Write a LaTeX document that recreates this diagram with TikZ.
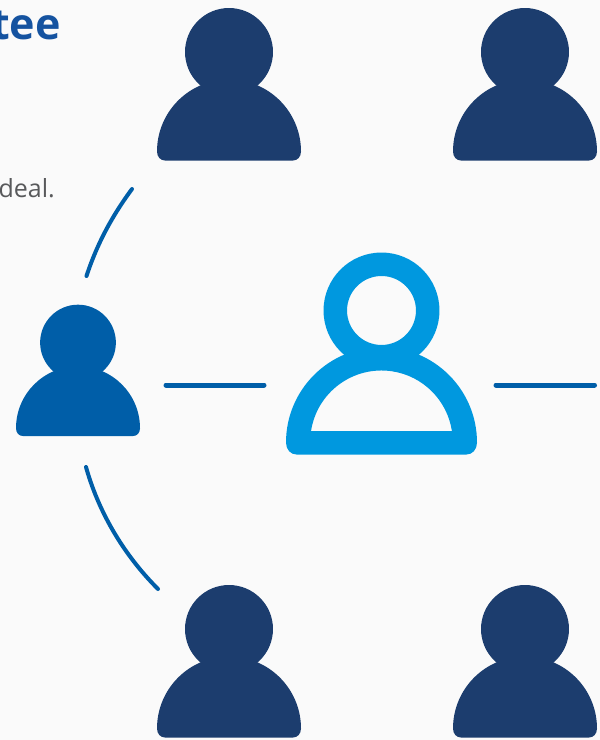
\documentclass[tikz,border=0pt]{standalone}
\usepackage{fontspec}
\setmainfont{Open Sans}
\definecolor{bgc}{HTML}{FAFAFA}
\definecolor{darkp}{HTML}{1C3D6E}
\definecolor{midp}{HTML}{005EA8}
\definecolor{lightp}{HTML}{0098DF}
\definecolor{titlec}{HTML}{1553A0}
\definecolor{textc}{HTML}{58595B}
\tikzset{
  x=1pt,y=1pt,
  person/.pic={
    \fill[#1] (0,1.507) circle[radius=.611];
    \fill[#1] (-1,.125) arc[start angle=180,end angle=0,radius=1]
      .. controls (1,.05) and (.95,0) .. (.89,0) -- (-.89,0)
      .. controls (-.95,0) and (-1,.05) .. (-1,.125) -- cycle;
  },
  hollowperson/.pic={
    \fill[#1,even odd rule] (0,1.508) circle[radius=.607] (0,1.508) circle[radius=.361];
    \fill[#1,even odd rule] (-1,.125) arc[start angle=180,end angle=0,radius=1]
      .. controls (1,.05) and (.95,0) .. (.89,0) -- (-.89,0)
      .. controls (-.95,0) and (-1,.05) .. (-1,.125) -- cycle
      (-.738,.244) arc[start angle=171.5,end angle=8.5,radius=.746] -- cycle;
  },
  link/.style={draw=midp,line width=5pt,line cap=round},
  curvedlink/.style={draw=midp,line width=4pt,line cap=round},
}
\begin{document}
\begin{tikzpicture}
\fill[bgc] (0,0) rectangle (600,-740);
\useasboundingbox (0,0) rectangle (600,-740);
\begin{scope}
\clip (0,0) rectangle (600,-740);
\node[anchor=base east,inner sep=0pt,font=\fontsize{43}{50}\selectfont\bfseries,text=titlec] (title) at (61,-39) {tee};
\node[anchor=base east,inner sep=0pt,font=\fontsize{25}{30}\selectfont,text=textc] (body) at (55,-197) {deal.};
\end{scope}
\pic[scale=72] at (229,-160.5) {person=darkp};
\pic[scale=72] at (525,-160.5) {person=darkp};
\pic[scale=72] at (229,-737.5) {person=darkp};
\pic[scale=72] at (525,-737.5) {person=darkp};
\pic[scale=62] at (78,-436) {person=midp};
\pic[scale=95.5] at (381.5,-454.5) {hollowperson=lightp};
\coordinate (a1) at (132,-189);
\coordinate (a2) at (86.5,-276);
\coordinate (b1) at (86,-467);
\coordinate (b2) at (158,-589);
\coordinate (c1) at (166,-385);
\coordinate (c2) at (264,-385);
\coordinate (d1) at (496,-385);
\coordinate (d2) at (594.5,-385);
\draw[curvedlink] (a1) .. controls (112,-216) and (97,-244) .. (a2);
\draw[curvedlink] (b1) .. controls (98,-510) and (122,-553) .. (b2);
\draw[link] (c1) -- (c2);
\draw[link] (d1) -- (d2);
\end{tikzpicture}
\end{document}
